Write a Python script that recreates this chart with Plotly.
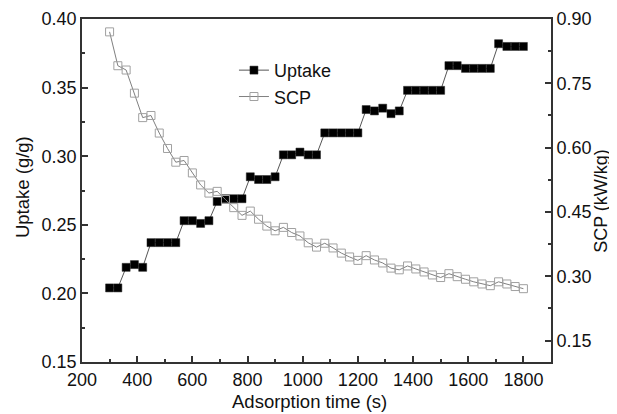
import plotly.graph_objects as go

time_s = [300, 330, 360, 390, 420, 450, 480, 510, 540, 570, 600, 630, 660, 690, 720,
          750, 780, 810, 840, 870, 900, 930, 960, 990, 1020, 1050, 1080, 1110, 1140,
          1170, 1200, 1230, 1260, 1290, 1320, 1350, 1380, 1410, 1440, 1470, 1500,
          1530, 1560, 1590, 1620, 1650, 1680, 1710, 1740, 1770, 1800]

uptake = [0.204, 0.204, 0.219, 0.221, 0.219, 0.237, 0.237, 0.237, 0.237, 0.253,
          0.253, 0.251, 0.253, 0.267, 0.269, 0.269, 0.269, 0.285, 0.283, 0.283,
          0.285, 0.301, 0.301, 0.303, 0.301, 0.301, 0.317, 0.317, 0.317, 0.317,
          0.317, 0.334, 0.333, 0.335, 0.331, 0.333, 0.348, 0.348, 0.348, 0.348,
          0.348, 0.366, 0.366, 0.364, 0.364, 0.364, 0.364, 0.382, 0.380, 0.380, 0.380]

scp = [0.870, 0.791, 0.781, 0.727, 0.670, 0.675, 0.634, 0.598, 0.566, 0.570,
       0.541, 0.513, 0.494, 0.498, 0.479, 0.460, 0.442, 0.452, 0.433, 0.417,
       0.406, 0.414, 0.402, 0.394, 0.378, 0.368, 0.377, 0.366, 0.354, 0.345,
       0.337, 0.348, 0.338, 0.331, 0.319, 0.315, 0.324, 0.317, 0.310, 0.303,
       0.297, 0.306, 0.299, 0.293, 0.287, 0.282, 0.278, 0.287, 0.282, 0.276, 0.271]

x_ticks = [200, 400, 600, 800, 1000, 1200, 1400, 1600, 1800]
left_ticks = [0.15, 0.20, 0.25, 0.30, 0.35, 0.40]
right_ticks = [0.15, 0.30, 0.45, 0.60, 0.75, 0.90]

x_title = "Adsorption time (s)"
left_title = "Uptake (g/g)"
right_title = "SCP (kW/kg)"

FONT = "Liberation Sans, Arial, sans-serif"
AX = "#333333"

fig = go.Figure()
fig.add_trace(go.Scatter(
    x=time_s, y=uptake, name="Uptake", mode="lines+markers",
    line=dict(color="#555555", width=1),
    marker=dict(symbol="square", size=8, color="#000000",
                line=dict(color="#222222", width=0.5)),
))
fig.add_trace(go.Scatter(
    x=time_s, y=scp, name="SCP", mode="lines+markers", yaxis="y2",
    line=dict(color="#808080", width=1),
    marker=dict(symbol="square-open", size=8, color="#a0a0a0",
                line=dict(width=1)),
))

# the page body has an 8px default margin, so the figure is drawn 8px in
fig.update_layout(
    width=609, height=406,
    margin=dict(l=74, r=66, t=11, b=52, autoexpand=False),
    paper_bgcolor="white", plot_bgcolor="white",
    font=dict(family=FONT, size=18, color="#111111"),
    showlegend=True,
    legend=dict(x=0.324, y=0.904, xanchor="left", yanchor="top",
                bgcolor="rgba(0,0,0,0)", font=dict(size=18),
                tracegroupgap=0, itemwidth=30),
    xaxis=dict(
        range=[200, 1900], tickvals=x_ticks, ticks="inside", ticklen=6,
        tickwidth=1.5, tickcolor=AX,
        showline=True, linecolor=AX, linewidth=1.8, mirror=True,
        showgrid=False, zeroline=False,
        minor=dict(ticks="inside", ticklen=3, dtick=100, tick0=300, tickcolor=AX),
    ),
    yaxis=dict(
        range=[0.15, 0.40], tickvals=left_ticks, tickformat=".2f",
        ticks="inside", ticklen=6, tickwidth=1.5, tickcolor=AX,
        showline=True, linecolor=AX, linewidth=1.8,
        showgrid=False, zeroline=False,
        minor=dict(ticks="inside", ticklen=3, dtick=0.025, tick0=0.175, tickcolor=AX),
    ),
    yaxis2=dict(
        range=[0.10, 0.90], tickvals=right_ticks, tickformat=".2f",
        overlaying="y", side="right", anchor="x",
        ticks="inside", ticklen=6, tickwidth=1.5, tickcolor=AX,
        showline=True, linecolor=AX, linewidth=1.8,
        showgrid=False, zeroline=False,
        minor=dict(ticks="inside", ticklen=3, dtick=0.075, tick0=0.075, tickcolor=AX),
    ),
    annotations=[
        dict(text=x_title, xref="paper", yref="paper", x=0.486, y=-0.114,
             xanchor="center", yanchor="middle", showarrow=False,
             font=dict(size=18.5)),
        dict(text=left_title, xref="paper", yref="paper", x=-0.128, y=0.51,
             xanchor="center", yanchor="middle", showarrow=False, textangle=-90,
             font=dict(size=18.5)),
        dict(text=right_title, xref="paper", yref="paper", x=1.106, y=0.469,
             xanchor="center", yanchor="middle", showarrow=False, textangle=-90,
             font=dict(size=18)),
    ],
)

fig.write_html("out.html")
